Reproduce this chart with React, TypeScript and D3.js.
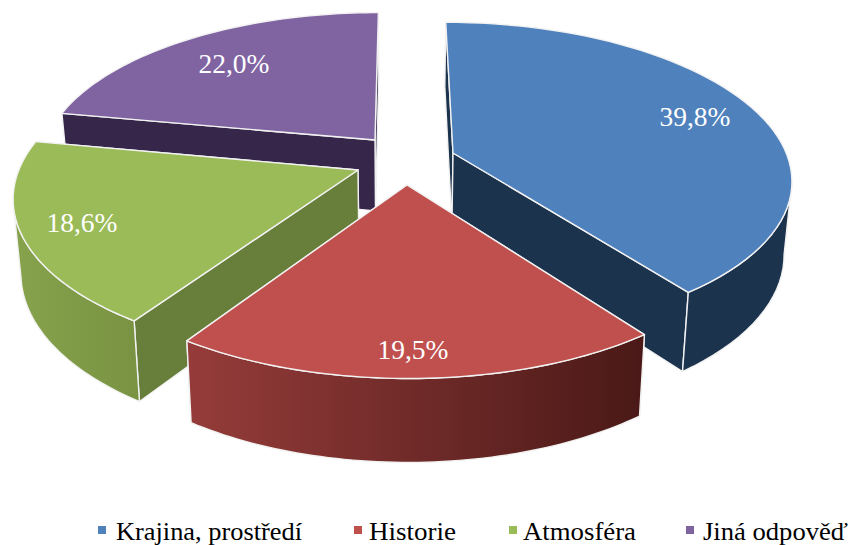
import React from "react";
import * as d3 from "d3";

const categories = ["Krajina, prostředí", "Historie", "Atmosféra", "Jiná odpověď"];
const shares = [39.8, 19.5, 18.6, 22.0];
const valueLabels = ["39,8%", "19,5%", "18,6%", "22,0%"];
const topColors = ["#4f81bd", "#c0504d", "#9bbb59", "#8064a2"];
const innerColors = ["#1c334e", "#4d1b19", "#687f3c", "#35264a"];
const wallFrom = ["#1c334e", "#953c3a", "#87a34c", "#35264a"];
const wallTo = ["#1c334e", "#4a1917", "#799343", "#35264a"];
const apexes: [number, number][] = [[453, 153], [407, 185], [358, 170], [375, 140]];
const labelPositions: [number, number][] = [[695, 126], [413, 359], [82, 232], [234, 73]];
const legendX = [98, 354, 509, 686];
const legendTextX = [116, 369, 523, 703];
const legendTextW = [186, 87, 113, 145];

const W = 849, H = 545;
const cx = 400, cy = 161, R = 336, S = 154, k = 0.16, h = 72;

const den = (v: number) => 1 - k * v;
const project = (u: number, v: number, z = 0): [number, number] => {
  const d = den(v), sc = 1 - 0.02 * z;
  return [cx + ((R * u) / d) * sc, cy + ((S * v) / d) * sc + (h * z) / d];
};
const unproject = (x: number, y: number): [number, number] => {
  const t = (y - cy) / S;
  const v = t / (1 + k * t);
  const u = ((x - cx) * den(v)) / R;
  return [u, v];
};

const line = d3.line<[number, number]>();
const arcs = d3.pie<number>().sort(null).value((d) => d)(shares);

export default function App() {
  const slices = arcs.map((a, i) => {
    const [u0, v0] = unproject(apexes[i][0], apexes[i][1]);
    const n = 60;
    const angle = d3.scaleLinear().domain([0, n]).range([a.startAngle, a.endAngle]);
    const rim = d3.range(n + 1).map((j): [number, number] => [u0 + Math.sin(angle(j)), v0 - Math.cos(angle(j))]);
    const rimTop = rim.map(([u, v]) => project(u, v, 0));
    const rimBot = rim.map(([u, v]) => project(u, v, 1));
    const front = rim.map((_, j) =>
      (j < n && rimTop[j + 1][0] < rimTop[j][0]) || (j === n && rimTop[n][0] < rimTop[n - 1][0]));
    const apexTop = project(u0, v0, 0);
    const apexBot = project(u0, v0, 1);
    return {
      i, rimTop, rimBot, apexTop, apexBot,
      frontTop: rimTop.filter((_, j) => front[j]),
      frontBot: rimBot.filter((_, j) => front[j]),
    };
  });
  const stroke = { stroke: "#f2f2f2", strokeWidth: 1.4, strokeLinejoin: "round" as const };
  return (
    <svg width={W} height={H} style={{ position: "absolute", left: 0, top: 0, background: "#fff" }}>
      <defs>
        {slices.map((s) => {
          const xs = s.rimTop.map((p) => p[0]);
          return (
            <linearGradient key={s.i} id={`wall${s.i}`} gradientUnits="userSpaceOnUse"
              x1={d3.min(xs)} x2={d3.max(xs)} y1={0} y2={0}>
              <stop offset="0" stopColor={wallFrom[s.i]} />
              <stop offset="1" stopColor={wallTo[s.i]} />
            </linearGradient>
          );
        })}
      </defs>
      {[3, 0, 2, 1].map((i) => {
        const s = slices[i];
        const n = s.rimTop.length - 1;
        const ends = s.rimTop[0][1] < s.rimTop[n][1] ? [0, n] : [n, 0];
        return (
          <g key={i}>
            {ends.map((e) => (
              <path key={e} d={line([s.apexTop, s.rimTop[e], s.rimBot[e], s.apexBot]) + "Z"} fill={innerColors[i]} {...stroke} />
            ))}
            {s.frontTop.length > 1 && (
              <path d={line([...s.frontTop, ...[...s.frontBot].reverse()]) + "Z"} fill={`url(#wall${i})`} {...stroke} />
            )}
            <path d={line([s.apexTop, ...s.rimTop]) + "Z"} fill={topColors[i]} {...stroke} />
          </g>
        );
      })}
      <g fontFamily="'Liberation Serif', serif">
        {valueLabels.map((t, i) => (
          <text key={t} x={labelPositions[i][0]} y={labelPositions[i][1]} fill="#fff" fontSize={27} textAnchor="middle"
            textLength={71} lengthAdjust="spacingAndGlyphs">{t}</text>
        ))}
        {categories.map((c, i) => (
          <g key={c}>
            <rect x={legendX[i]} y={526} width={8} height={8} fill={topColors[i]} />
            <text x={legendTextX[i]} y={539.5} fontSize={24.5} fill="#000" textLength={legendTextW[i]} lengthAdjust="spacingAndGlyphs">{c}</text>
          </g>
        ))}
      </g>
    </svg>
  );
}
